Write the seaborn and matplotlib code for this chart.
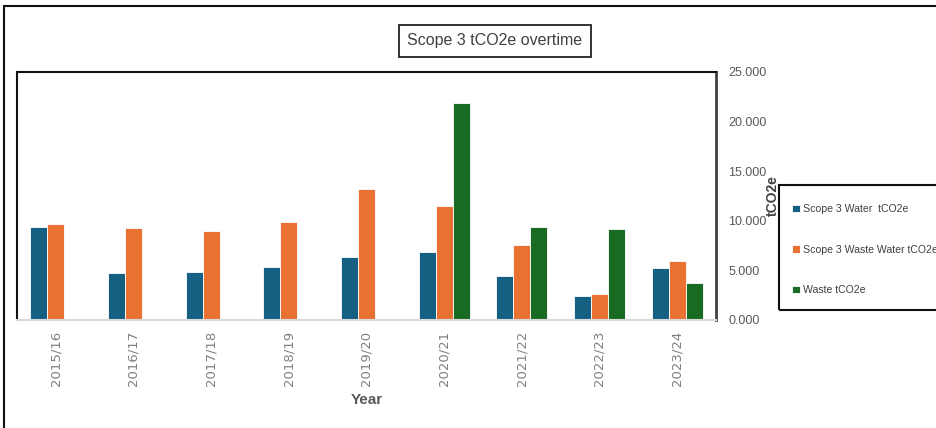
import numpy as np
import pandas as pd
import matplotlib.pyplot as plt
import seaborn as sns
from matplotlib.patches import Rectangle
from matplotlib.lines import Line2D
from matplotlib.ticker import FixedLocator, FuncFormatter

years = ["2015/16", "2016/17", "2017/18", "2018/19", "2019/20",
         "2020/21", "2021/22", "2022/23", "2023/24"]
water = [9.40, 4.69, 4.85, 5.35, 6.39, 6.89, 4.42, 2.44, 5.28]
waste_water = [9.64, 9.24, 8.97, 9.90, 13.25, 11.45, 7.53, 2.61, 5.95]
waste = [np.nan, np.nan, np.nan, np.nan, np.nan, 21.85, 9.40, 9.14, 3.75]

series_names = ["Scope 3 Water  tCO2e", "Scope 3 Waste Water tCO2e", "Waste tCO2e"]
colors = ["#156082", "#E97132", "#196B24"]

df = pd.DataFrame({
    "Year": years * 3,
    "value": water + waste_water + waste,
    "series": [series_names[0]] * 9 + [series_names[1]] * 9 + [series_names[2]] * 9,
})

sns.set_style("white")
narrow = ["Liberation Sans Narrow", "Liberation Sans", "DejaVu Sans"]

fig = plt.figure(figsize=(9.37, 4.28), dpi=100)
ax = fig.add_axes([17 / 937, 1 - 320 / 428, (716 - 17) / 937, (320 - 72) / 428])

sns.barplot(data=df, x="Year", y="value", hue="series", hue_order=series_names,
            palette=colors, width=0.66, edgecolor="white", linewidth=0.6,
            saturation=1, ax=ax)

ax.set_ylim(0, 25)
ax.set_xlim(-0.5, len(years) - 0.5)

# y axis on the right
ax.yaxis.tick_right()
ax.set_yticks([0, 5, 10, 15, 20, 25])
ax.yaxis.set_major_formatter(FuncFormatter(lambda v, p: f"{v:.3f}"))
ax.tick_params(axis="y", length=0, pad=9, labelsize=9, labelcolor="#595959")
for lab in ax.get_yticklabels():
    lab.set_family(narrow)
ax.set_ylabel("")
fig.text(773 / 937, 1 - 196 / 428, "tCO2e", rotation=90, ha="center", va="center",
         fontsize=10, fontweight="bold", color="#404040",
         family=["Liberation Sans", "DejaVu Sans"])

# x axis
ax.set_xticks(range(len(years)))
ax.set_xticklabels(years, rotation=90, fontsize=9.5, color="#808080")
ax.tick_params(axis="x", which="major", length=0, pad=8)
ax.xaxis.set_minor_locator(FixedLocator(np.arange(-0.5, len(years), 1)))
ax.tick_params(axis="x", which="minor", length=5, color="#d9d9d9", width=1)
ax.set_xlabel("Year", fontsize=11, fontweight="bold", color="#595959",
              family=narrow, labelpad=5)

for side in ["top", "left", "right"]:
    ax.spines[side].set_visible(True)
    ax.spines[side].set_color("#111111")
    ax.spines[side].set_linewidth(1.5)
ax.spines["bottom"].set_color("#d9d9d9")
ax.spines["bottom"].set_linewidth(1.5)
ax.spines["right"].set_color("#404040")
ax.spines["right"].set_linewidth(2)

# legend
handles, labels = ax.get_legend_handles_labels()
ax.legend_.remove()
fig.legend(handles, labels, loc="upper left", bbox_to_anchor=(788 / 937, 1 - 200 / 428),
           frameon=False, prop={"family": narrow, "size": 7.6},
           handlelength=0.7, handleheight=0.7, handletextpad=0.3,
           labelspacing=2.9, borderaxespad=0, labelcolor="#404040")
fig.patches.append(Rectangle((779 / 937, 1 - 310 / 428), 170 / 937, 125 / 428,
                             transform=fig.transFigure, fill=False,
                             edgecolor="#111111", linewidth=1.5))

# title box
fig.text(495 / 937, 1 - 41 / 428, "Scope 3 tCO2e overtime", ha="center", va="center",
         fontsize=11.5, color="#404040", family=narrow,
         bbox=dict(boxstyle="square,pad=0.55", facecolor="white",
                   edgecolor="#111111", linewidth=1.2))

# outer chart border
fig.lines.append(Line2D([4 / 937, 1], [1 - 5.5 / 428, 1 - 5.5 / 428],
                        transform=fig.transFigure, color="#111111", linewidth=1.5))
fig.lines.append(Line2D([4 / 937, 4 / 937], [0, 1 - 5.5 / 428],
                        transform=fig.transFigure, color="#111111", linewidth=1.5))

fig.savefig("out.png", dpi=100)
